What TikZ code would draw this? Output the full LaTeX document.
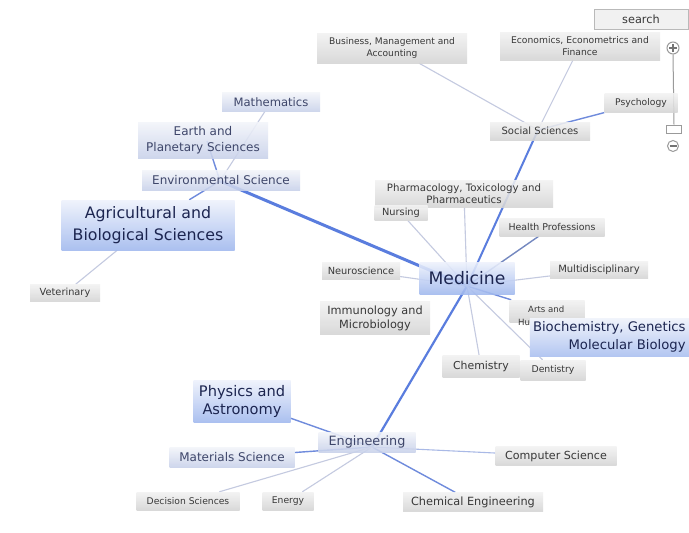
\documentclass[tikz,border=0pt]{standalone}
\usepackage{fontspec}
\setmainfont{DejaVu Sans}
\usetikzlibrary{calc}
\definecolor{gtop}{HTML}{F2F2F2}
\definecolor{gbot}{HTML}{D4D4D4}
\definecolor{lbtop}{HTML}{F3F5FA}
\definecolor{lbbot}{HTML}{C8D1EA}
\definecolor{btop}{HTML}{EEF2FC}
\definecolor{bbot}{HTML}{A0B8EE}
\definecolor{txtg}{HTML}{383838}
\definecolor{txtb}{HTML}{1C2550}
\definecolor{edgethick}{HTML}{5A7DDE}
\definecolor{edgemed}{HTML}{6F8BDC}
\definecolor{edgelight}{HTML}{C4CAE0}
\definecolor{edgelb}{HTML}{A9B9E6}
\definecolor{ctrl}{HTML}{9A9A9A}
\pgfdeclarelayer{bg}
\pgfsetlayers{bg,main}
\begin{document}
\begin{tikzpicture}[x=1pt,y=-1pt,
  box/.style={rectangle,inner sep=0pt,align=center,fill opacity=0.88,text opacity=1},
  gbox/.style={box,top color=gtop,bottom color=gbot,text=txtg},
  lbbox/.style={box,top color=lbtop,bottom color=lbbot,text=txtb!85},
  bbox/.style={box,top color=btop,bottom color=bbot,text=txtb},
  fsz/.style 2 args={font=\fontsize{#1}{#2}\selectfont},
  thickedge/.style={draw=edgethick,line width=2.4pt},
  mededge/.style={draw=edgemed,line width=1.4pt},
  lightedge/.style={draw=edgelight,line width=1.1pt},
  lbedge/.style={draw=edgelb,line width=1.1pt},
  ctrlline/.style={draw=ctrl,line width=1pt}
]
\useasboundingbox (0,0) rectangle (689,533);

% search and zoom control
\node[box,fill=gray!12,draw=gray!55,minimum width=94pt,minimum height=20pt,text=txtg,fsz={11.3}{13}] (search) at (641,19) {search};
\node[circle,draw=ctrl,fill=white,line width=1pt,minimum size=12pt,inner sep=0pt] (plus) at (673,48) {};
\node[circle,draw=ctrl,fill=white,line width=1pt,minimum size=11pt,inner sep=0pt] (minus) at (673,146) {};
\node[rectangle,draw=ctrl,fill=white,line width=1pt,minimum width=15pt,minimum height=8pt,inner sep=0pt] (slider) at (674,129) {};
\draw[ctrlline] (plus.south) -- (slider.north);
\draw[line width=1.3pt,draw=black!55] ($(plus.center)+(-4,0)$) -- ($(plus.center)+(4,0)$);
\draw[line width=1.3pt,draw=black!55] ($(plus.center)+(0,-4)$) -- ($(plus.center)+(0,4)$);
\draw[line width=1.3pt,draw=black!55] ($(minus.center)+(-3.5,0)$) -- ($(minus.center)+(3.5,0)$);

% nodes
\node[gbox,fsz={9.1}{12},minimum width=150pt,minimum height=30pt] (business) at (392,48) {Business, Management and\\Accounting};
\node[gbox,fsz={9.2}{12},minimum width=160pt,minimum height=28pt] (econ) at (580,46) {Economics, Econometrics and\\Finance};
\node[gbox,fsz={9.2}{11},minimum width=73pt,minimum height=19pt] (psych) at (641,103) {Psychology};
\node[gbox,fsz={10}{12},minimum width=100pt,minimum height=18pt] (social) at (540,131) {Social Sciences};
\node[lbbox,fsz={11.6}{14},minimum width=98pt,minimum height=19pt] (math) at (271,102) {Mathematics};
\node[lbbox,fsz={12}{16},minimum width=130pt,minimum height=36pt] (earth) at (203,140) {Earth and\\Planetary Sciences};
\node[lbbox,fsz={12}{14},minimum width=158pt,minimum height=20pt] (env) at (221,180) {Environmental Science};
\node[bbox,fsz={15.8}{22},minimum width=173pt,minimum height=50pt] (agri) at (148,225) {Agricultural and\\Biological Sciences};
\node[gbox,fsz={9.8}{11},minimum width=70pt,minimum height=17pt] (vet) at (65,293) {Veterinary};
\node[gbox,fsz={10.2}{12},minimum width=178pt,minimum height=27pt] (pharma) at (464,194) {Pharmacology, Toxicology and\\Pharmaceutics};
\node[gbox,fsz={9.8}{11},minimum width=53pt,minimum height=15pt] (nursing) at (401,213) {Nursing};
\node[gbox,fsz={9.4}{11},minimum width=105pt,minimum height=18pt] (health) at (552,227) {Health Professions};
\node[gbox,fsz={9.8}{11},minimum width=78pt,minimum height=17pt] (neuro) at (361,271) {Neuroscience};
\node[bbox,fsz={17.2}{20},minimum width=95pt,minimum height=32pt] (medicine) at (467,278) {Medicine};
\node[gbox,fsz={10}{11},minimum width=98pt,minimum height=17pt] (multi) at (599,270) {Multidisciplinary};
\node[gbox,fsz={11.3}{14},minimum width=110pt,minimum height=33pt] (immuno) at (375,318) {Immunology and\\Microbiology};
\node[gbox,minimum width=75pt,minimum height=22pt] (arts) at (547,311) {};
\node[fsz={8.6}{10},text=txtg,anchor=west,inner sep=0pt] (artstxt) at (528,309) {Arts and};
\node[fsz={8.6}{10},text=txtg,anchor=west,inner sep=0pt] (artshu) at (518,322) {Hu};
\node[bbox,fsz={13.2}{18},minimum width=159pt,minimum height=38pt,align=right,anchor=east,inner xsep=1pt,fill opacity=1,top color=lbtop!60!btop,bottom color=bbot!80!white] (biochem) at (689,337) {Biochemistry, Genetics\\Molecular Biology};
\node[gbox,fsz={10.9}{13},minimum width=77pt,minimum height=22pt] (chem) at (481,366) {Chemistry};
\node[gbox,fsz={9.3}{11},minimum width=65pt,minimum height=20pt] (dent) at (553,370) {Dentistry};
\node[bbox,fsz={14.6}{18},minimum width=97pt,minimum height=42pt] (physics) at (242,401) {Physics and\\Astronomy};
\node[lbbox,fsz={12.8}{15},minimum width=97pt,minimum height=20pt] (eng) at (367,442) {Engineering};
\node[lbbox,fsz={12}{14},minimum width=125pt,minimum height=20pt] (materials) at (232,457) {Materials Science};
\node[gbox,fsz={11.1}{13},minimum width=121pt,minimum height=19pt] (cs) at (556,456) {Computer Science};
\node[gbox,fsz={9.2}{11},minimum width=103pt,minimum height=18pt] (decision) at (188,501) {Decision Sciences};
\node[gbox,fsz={9.2}{11},minimum width=51pt,minimum height=18pt] (energy) at (288,501) {Energy};
\node[gbox,fsz={11.3}{13},minimum width=140pt,minimum height=19pt] (chemeng) at (473,502) {Chemical Engineering};

% hubs
\coordinate (envhub) at (220,181);
\coordinate (medhub) at (467,286);
\coordinate (sochub) at (538,130);
\coordinate (enghub) at (372,447);
\coordinate (earthend) at (207,141);

\begin{pgfonlayer}{bg}
\fill[white] (0,0) rectangle (689,533);
\draw[thickedge,line width=3pt] (envhub) -- (medhub);
\draw[thickedge,line width=2pt] (sochub) -- (medhub);
\draw[thickedge,line width=2.2pt] (medhub) -- (enghub);
\draw[mededge] (envhub) -- (earthend);
\draw[mededge] (envhub) -- (agri);
\draw[mededge] (sochub) -- (psych);
\draw[mededge] (medhub) -- (arts);
\draw[mededge,draw=edgemed!70!gray] (medhub) -- (health);
\draw[mededge] (enghub) -- (physics);
\draw[mededge] (enghub) -- (materials);
\draw[mededge] (enghub) -- (chemeng);
\draw[lightedge] (envhub) -- (math);
\draw[lightedge] (agri) -- (vet);
\draw[lightedge] (sochub) -- (business);
\draw[lightedge] (sochub) -- (econ);
\draw[lightedge] (medhub) -- (pharma);
\draw[lightedge] (medhub) -- (nursing);
\draw[lightedge] (medhub) -- (neuro);
\draw[lightedge] (medhub) -- (multi);
\draw[lightedge] (medhub) -- (dent);
\draw[lightedge] (medhub) -- (chem);
\draw[lbedge] (enghub) -- (cs);
\draw[lightedge] (enghub) -- (energy);
\draw[lightedge] (enghub) -- (decision);
\end{pgfonlayer}
\end{tikzpicture}
\end{document}
